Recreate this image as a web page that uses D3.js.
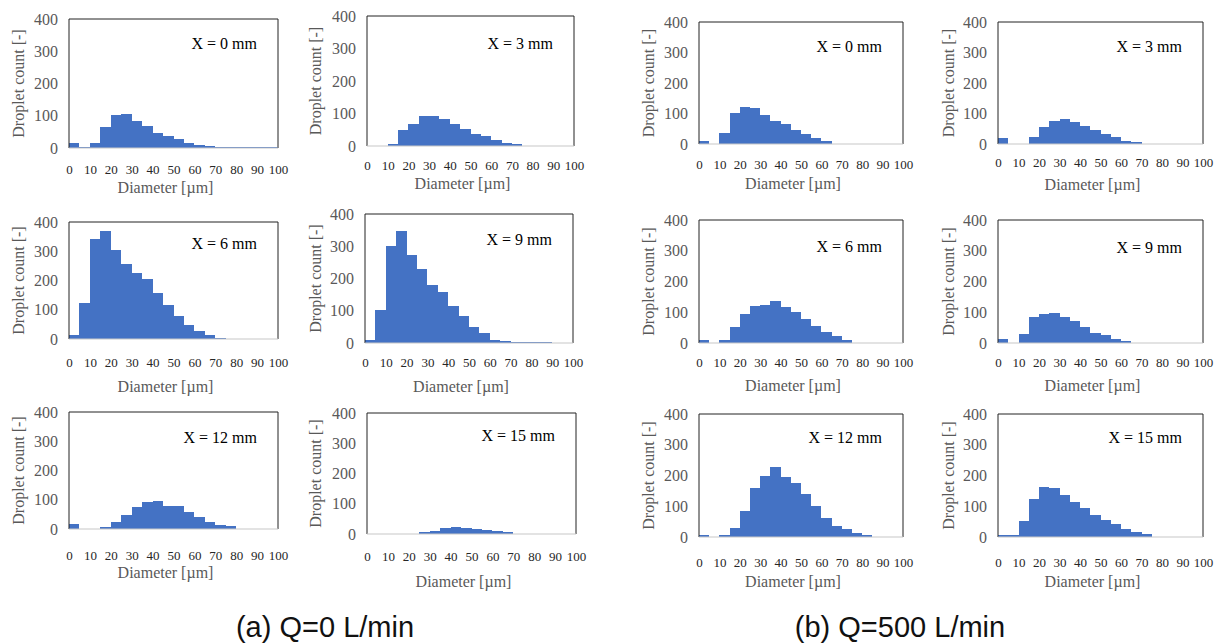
<!DOCTYPE html>
<html>
<head>
<meta charset="utf-8">
<script src="https://d3js.org/d3.v7.min.js"></script>
<style>
body { margin: 0; background: #fff; }
svg { display: block; }
.ylab, .xlab { font-family: "Liberation Serif", serif; font-size: 16px; fill: #595959; }
.ann { font-family: "Liberation Serif", serif; font-size: 16px; fill: #000; }
.caption { font-family: "Liberation Sans", Arial, sans-serif; font-size: 29px; fill: #111; }
</style>
</head>
<body>
<script>

// bins of 5 um, lower edges
var binStarts = [0, 5, 10, 15, 20, 25, 30, 35, 40, 45, 50, 55, 60, 65, 70, 75, 80, 85, 90, 95];
var xTicks = [0, 10, 20, 30, 40, 50, 60, 70, 80, 90, 100];
var yTicks = [0, 100, 200, 300, 400];
var positions = ["X = 0 mm", "X = 3 mm", "X = 6 mm", "X = 9 mm", "X = 12 mm", "X = 15 mm"];
var captions = ["(a) Q=0 L/min", "(b) Q=500 L/min"];

// droplet counts, Q = 0 L/min
var q0_x0  = [15, 3, 15, 64, 103, 106, 85, 67, 48, 38, 28, 15, 9, 5, 3, 2, 2, 2, 2, 2];
var q0_x3  = [1, 1, 7, 48, 69, 91, 91, 84, 69, 51, 37, 30, 19, 9, 5, 1, 1, 1, 1, 1];
var q0_x6  = [15, 123, 342, 368, 305, 258, 226, 205, 157, 117, 78, 47, 27, 14, 2, 1, 0, 0, 0, 0];
var q0_x9  = [10, 101, 300, 346, 274, 231, 180, 158, 116, 83, 51, 31, 10, 7, 3, 3, 3, 3, 0, 0];
var q0_x12 = [17, 0, 0, 8, 25, 49, 76, 92, 97, 77, 77, 57, 41, 25, 12, 9, 1, 0, 0, 0];
var q0_x15 = [0, 0, 0, 0, 0, 5, 11, 19, 22, 21, 18, 14, 10, 5, 0, 0, 0, 0, 0, 0];

// droplet counts, Q = 500 L/min
var q500_x0  = [10, 0, 37, 101, 122, 117, 94, 75, 64, 46, 33, 20, 10, 1, 1, 1, 1, 1, 1, 1];
var q500_x3  = [19, 0, 0, 22, 55, 75, 81, 71, 60, 45, 33, 22, 11, 7, 0, 0, 0, 0, 0, 0];
var q500_x6  = [10, 0, 10, 52, 94, 119, 124, 135, 117, 101, 78, 56, 35, 22, 11, 0, 0, 0, 0, 0];
var q500_x9  = [14, 0, 30, 83, 94, 97, 83, 70, 52, 34, 26, 14, 8, 0, 0, 0, 0, 0, 0, 0];
var q500_x12 = [8, 0, 7, 30, 83, 159, 200, 227, 196, 177, 139, 101, 61, 35, 26, 14, 7, 0, 0, 0];
var q500_x15 = [7, 7, 53, 125, 163, 160, 136, 114, 95, 72, 54, 41, 27, 15, 11, 0, 0, 0, 0, 0];

var series = [q0_x0, q0_x3, q0_x6, q0_x9, q0_x12, q0_x15,
              q500_x0, q500_x3, q500_x6, q500_x9, q500_x12, q500_x15];

// where each small plot sits on the page (plot box + label rows)
var layout = [
    {left: 69,  right: 278,  top: 19,  bottom: 148, tickY: 170, labY: 187, ylabX: 18,  annY: 43},
    {left: 367, right: 574,  top: 16,  bottom: 146, tickY: 166, labY: 183, ylabX: 315, annY: 43},
    {left: 69,  right: 278,  top: 222, bottom: 339, tickY: 363, labY: 386, ylabX: 18,  annY: 243},
    {left: 365, right: 573,  top: 214, bottom: 343, tickY: 363, labY: 386, ylabX: 315, annY: 239},
    {left: 69,  right: 278,  top: 412, bottom: 529, tickY: 556, labY: 572, ylabX: 18,  annY: 437},
    {left: 367, right: 576,  top: 413, bottom: 534, tickY: 557, labY: 581, ylabX: 315, annY: 435},
    {left: 699, right: 903,  top: 22,  bottom: 144, tickY: 165, labY: 183, ylabX: 648, annY: 46},
    {left: 998, right: 1203, top: 22,  bottom: 144, tickY: 163, labY: 184, ylabX: 948, annY: 46},
    {left: 699, right: 903,  top: 220, bottom: 343, tickY: 363, labY: 385, ylabX: 648, annY: 246},
    {left: 998, right: 1203, top: 220, bottom: 343, tickY: 363, labY: 385, ylabX: 948, annY: 247},
    {left: 699, right: 903,  top: 414, bottom: 537, tickY: 563, labY: 581, ylabX: 648, annY: 437},
    {left: 998, right: 1203, top: 414, bottom: 537, tickY: 563, labY: 581, ylabX: 948, annY: 437}
];

var svg = d3.select("body")
    .append("svg")
    .attr("width", 1220)
    .attr("height", 644);

series.forEach(function (vals, i) {
    var L = layout[i];
    var x = d3.scaleLinear().domain([0, 100]).range([L.left, L.right]);
    var y = d3.scaleLinear().domain([0, 400]).range([L.bottom, L.top]);
    var g = svg.append("g").attr("class", "panel");

    var bins = binStarts.map(function (b, j) {
        return {start: b, count: vals[j]};
    }).filter(function (d) { return d.count > 0; });

    //histogram bars, no gap between them
    g.selectAll("rect")
        .data(bins)
        .enter().append("rect")
        .attr("x", function (d) { return x(d.start); })
        .attr("width", function (d) { return x(d.start + 5) - x(d.start); })
        .attr("y", function (d) { return y(d.count); })
        .attr("height", function (d) { return y(0) - y(d.count); })
        .attr("fill", "#4472C4")
        .attr("shape-rendering", "crispEdges");

    //plot frame: dark on 3 sides, light gray axis line at the bottom
    g.append("path")
        .attr("d", "M" + x(0) + "," + y(0) + "V" + y(400) + "H" + x(100) + "V" + y(0))
        .attr("fill", "none")
        .attr("stroke", "#222")
        .attr("stroke-width", 1);
    g.append("line")
        .attr("x1", x(0)).attr("x2", x(100))
        .attr("y1", y(0)).attr("y2", y(0))
        .attr("stroke", "#c8c8c8")
        .attr("stroke-width", 1.2);

    //y axis
    var ya = g.append("g")
        .attr("transform", "translate(" + x(0) + ",0)")
        .call(d3.axisLeft(y).tickValues(yTicks).tickSize(0).tickPadding(11));
    ya.select(".domain").remove();
    ya.selectAll("text")
        .style("font-family", "'Liberation Serif', serif")
        .style("font-size", "16px")
        .attr("fill", "#595959");

    //x axis
    var xa = g.append("g")
        .attr("transform", "translate(0," + y(0) + ")")
        .call(d3.axisBottom(x).tickValues(xTicks).tickSize(0).tickPadding(L.tickY - L.bottom - 5));
    xa.select(".domain").remove();
    xa.selectAll("text")
        .style("font-family", "'Liberation Serif', serif")
        .style("font-size", "13px")
        .attr("fill", "#262626");

    g.append("text")
        .attr("class", "xlab")
        .attr("x", (L.left + L.right) / 2 - 8)
        .attr("y", L.labY)
        .attr("text-anchor", "middle")
        .attr("dominant-baseline", "central")
        .text("Diameter [\u00b5m]");

    g.append("text")
        .attr("class", "ylab")
        .attr("transform", "translate(" + L.ylabX + "," + (L.top + L.bottom) / 2 + ") rotate(-90)")
        .attr("text-anchor", "middle")
        .attr("dominant-baseline", "central")
        .text("Droplet count [-]");

    g.append("text")
        .attr("class", "ann")
        .attr("x", L.right - 21)
        .attr("y", L.annY)
        .attr("text-anchor", "end")
        .attr("dominant-baseline", "central")
        .text(positions[i % 6]);
});

svg.selectAll("text.caption")
    .data(captions)
    .enter().append("text")
    .attr("class", "caption")
    .attr("x", function (d, i) { return i === 0 ? 325 : 900; })
    .attr("y", 637)
    .attr("text-anchor", "middle")
    .text(function (d) { return d; });

</script>
</body>
</html>
